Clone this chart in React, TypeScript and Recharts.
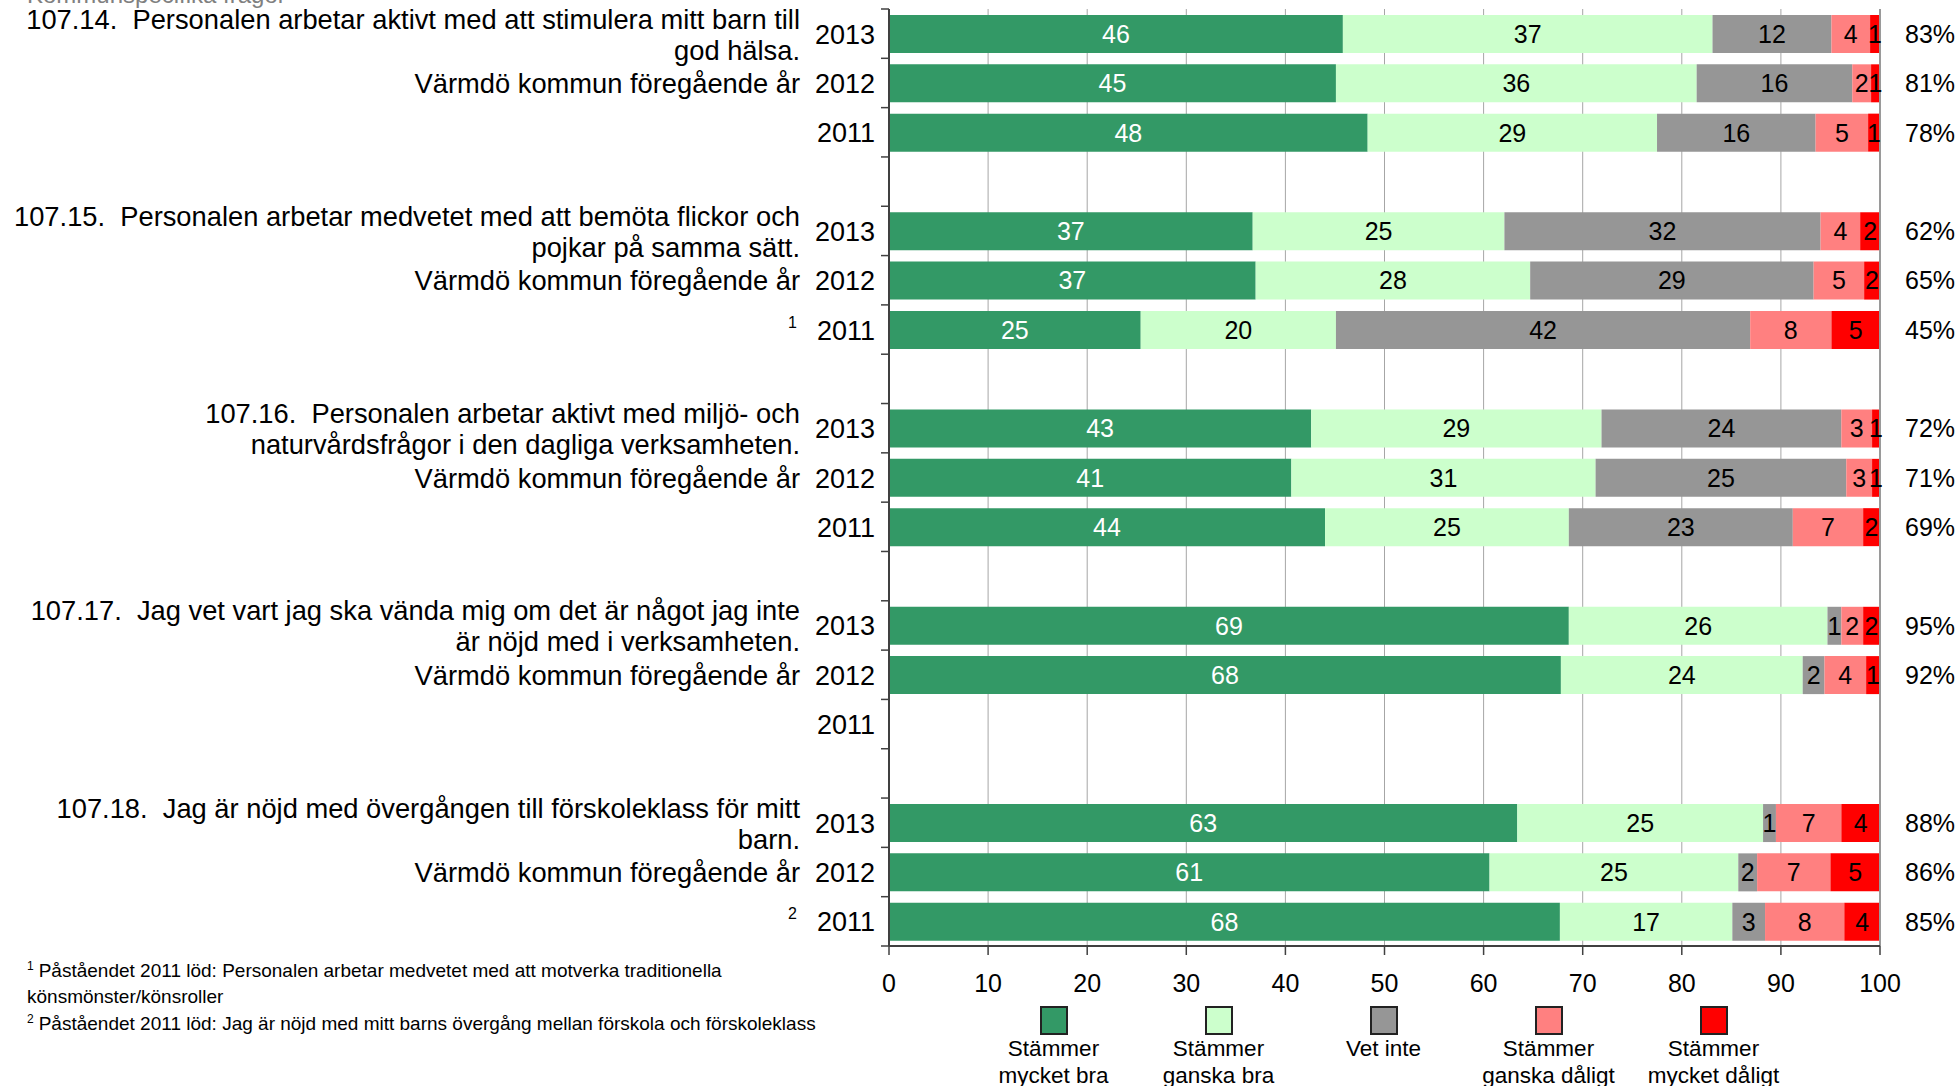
import { BarChart, Bar, XAxis, YAxis, CartesianGrid, LabelList, ReferenceLine } from 'recharts';

// survey questions (two lines each), years and notes
const questions = [
  ['107.14.\u00a0 Personalen arbetar aktivt med att stimulera mitt barn till', 'god hälsa.'],
  ['107.15.\u00a0 Personalen arbetar medvetet med att bemöta flickor och', 'pojkar på samma sätt.'],
  ['107.16.\u00a0 Personalen arbetar aktivt med miljö- och', 'naturvårdsfrågor i den dagliga verksamheten.'],
  ['107.17.\u00a0 Jag vet vart jag ska vända mig om det är något jag inte', 'är nöjd med i verksamheten.'],
  ['107.18.\u00a0 Jag är nöjd med övergången till förskoleklass för mitt', 'barn.'],
];
const years = ['2013', '2012', '2011'];
const compareLabel = 'Värmdö kommun föregående år';
const notes2011 = ['', '1', '', '', '2'];

// shares in %, order: q1 2013, 2012, 2011, q2 2013 ...
const mycketBra = [45.8, 45.1, 48.3, 36.7, 37.0, 25.4, 42.6, 40.6, 44.0, 68.6, 67.8, null, 63.4, 60.6, 67.7];
const ganskaBra = [37.3, 36.4, 29.2, 25.4, 27.7, 19.7, 29.3, 30.7, 24.6, 26.1, 24.4, null, 24.8, 25.1, 17.4];
const vetInte = [12.0, 15.7, 16.0, 31.9, 28.6, 41.8, 24.2, 25.3, 22.6, 1.4, 2.2, null, 1.3, 1.9, 3.3];
const ganskaDaligt = [3.9, 1.9, 5.3, 4.0, 5.1, 8.2, 3.1, 2.6, 7.1, 2.2, 4.2, null, 6.6, 7.4, 8.0];
const mycketDaligt = [1.0, 0.9, 1.2, 2.0, 1.6, 4.9, 0.8, 0.8, 1.7, 1.7, 1.4, null, 3.9, 5.0, 3.6];
const positive = [83, 81, 78, 62, 65, 45, 72, 71, 69, 95, 92, null, 88, 86, 85];

const seriesNames = [
  ['Stämmer', 'mycket bra'],
  ['Stämmer', 'ganska bra'],
  ['Vet inte'],
  ['Stämmer', 'ganska dåligt'],
  ['Stämmer', 'mycket dåligt'],
];
const seriesColors = ['#339966', '#ccffcc', '#969696', '#ff8080', '#ff0000'];
const seriesLabelColors = ['#ffffff', '#000000', '#000000', '#000000', '#000000'];
const seriesValues = [mycketBra, ganskaBra, vetInte, ganskaDaligt, mycketDaligt];

const xTicks = [0, 10, 20, 30, 40, 50, 60, 70, 80, 90, 100];

const sectionTitle = 'Kommunspecifika frågor';
const footnoteLines = [
  { mark: '1', text: 'Påståendet 2011 löd: Personalen arbetar medvetet med att motverka traditionella' },
  { mark: '', text: 'könsmönster/könsroller' },
  { mark: '2', text: 'Påståendet 2011 löd: Jag är nöjd med mitt barns övergång mellan förskola och förskoleklass' },
];

const rows: any[] = [];
questions.forEach((q, gi) => {
  if (gi > 0) rows.push({ key: `sp${gi}` });
  years.forEach((yr, yi) => {
    const i = gi * 3 + yi;
    const row: any = {
      key: `${gi}-${yr}`,
      year: yr,
      question: yi === 0 ? q : null,
      compare: yi === 1,
      note: yi === 2 ? notes2011[gi] : '',
      pct: positive[i],
    };
    seriesValues.forEach((vals, si) => {
      row[`s${si}`] = vals[i];
    });
    rows.push(row);
  });
});

const W = 1959;
const H = 1086;
const PLOT_TOP = 9;
const PLOT_BOTTOM = 946;
const PLOT_LEFT = 889;
const PLOT_RIGHT = 1880;
const SLOT = (PLOT_BOTTOM - PLOT_TOP) / rows.length;
const FONT = "'Liberation Sans', Arial, sans-serif";

const LeftTick = (props: any) => {
  const { y, payload, index } = props;
  const row = rows.find((r) => r.key === payload.value) || {};
  const ax = PLOT_LEFT;
  const half = SLOT / 2;
  return (
    <g fontFamily={FONT} fill="#000">
      <line x1={ax - 8} x2={ax} y1={y - half} y2={y - half} stroke="#404040" strokeWidth={1.5} />
      {index === rows.length - 1 && (
        <line x1={ax - 8} x2={ax} y1={y + half} y2={y + half} stroke="#404040" strokeWidth={1.5} />
      )}
      {row.year && (
        <text x={ax - 14} y={y + 10} textAnchor="end" fontSize={27}>{row.year}</text>
      )}
      {row.question && (
        <>
          <text x={ax - 89} y={y - 5} textAnchor="end" fontSize={27.3}>{row.question[0]}</text>
          <text x={ax - 89} y={y + 26} textAnchor="end" fontSize={27.3}>{row.question[1]}</text>
        </>
      )}
      {row.compare && (
        <text x={ax - 89} y={y + 10} textAnchor="end" fontSize={27.3}>{compareLabel}</text>
      )}
      {row.note && (
        <text x={ax - 92} y={y - 2} textAnchor="end" fontSize={16}>{row.note}</text>
      )}
    </g>
  );
};

const fmtValue = (v: any) => (v == null ? '' : Math.round(Number(v)));
const fmtPct = (v: any) => (v == null ? '' : `${v}%`);

export default function App() {
  return (
    <div style={{ position: 'absolute', left: 0, top: 0, width: W, height: H, background: '#fff', fontFamily: FONT, overflow: 'hidden' }}>
      <div style={{ position: 'absolute', left: 27, top: -17, fontSize: 24, lineHeight: '24px', color: '#808080', whiteSpace: 'nowrap' }}>
        {sectionTitle}
      </div>
      <BarChart
        width={W}
        height={H}
        data={rows}
        layout="vertical"
        barSize={38}
        margin={{ top: PLOT_TOP, right: W - PLOT_RIGHT, bottom: H - PLOT_BOTTOM - 50, left: 0 }}
      >
        <CartesianGrid horizontal={false} stroke="#a6a6a6" />
        <XAxis
          type="number"
          domain={[0, 100]}
          ticks={xTicks}
          height={50}
          tickSize={9}
          tickMargin={19}
          interval={0}
          axisLine={{ stroke: '#404040', strokeWidth: 2 }}
          tickLine={{ stroke: '#404040', strokeWidth: 1.5 }}
          tick={{ fill: '#000', fontSize: 25, fontFamily: FONT }}
        />
        <XAxis
          xAxisId="top"
          orientation="top"
          type="number"
          domain={[0, 100]}
          height={0}
          tick={false}
          tickLine={false}
          axisLine={{ stroke: '#9a9a9a', strokeWidth: 2 }}
        />
        <YAxis
          type="category"
          dataKey="key"
          width={PLOT_LEFT}
          interval={0}
          tickSize={8}
          tickMargin={6}
          tickLine={false}
          axisLine={{ stroke: '#404040', strokeWidth: 2 }}
          tick={<LeftTick />}
        />
        <ReferenceLine x={100} stroke="#9a9a9a" strokeWidth={2} />
        {seriesValues.map((_, si) => (
          <Bar key={si} dataKey={`s${si}`} stackId="a" fill={seriesColors[si]} isAnimationActive={false}>
            <LabelList
              dataKey={`s${si}`}
              position="center"
              formatter={fmtValue}
              fill={seriesLabelColors[si]}
              fontSize={25}
              fontFamily={FONT}
            />
            {si === seriesValues.length - 1 && (
              <LabelList
                dataKey="pct"
                position="right"
                offset={25}
                formatter={fmtPct}
                fill="#000"
                fontSize={25}
                fontFamily={FONT}
              />
            )}
          </Bar>
        ))}
      </BarChart>

      <div style={{ position: 'absolute', left: 971, top: 1006, display: 'flex' }}>
        {seriesNames.map((name, si) => (
          <div key={si} style={{ width: 165, display: 'flex', flexDirection: 'column', alignItems: 'center' }}>
            <div style={{ width: 24, height: 25, background: seriesColors[si], border: '2px solid #222' }} />
            {name.map((line, li) => (
              <div key={li} style={{ fontSize: 22.5, lineHeight: '27px', color: '#000', whiteSpace: 'nowrap' }}>{line}</div>
            ))}
          </div>
        ))}
      </div>

      {footnoteLines.map((fn, fi) => (
        <div
          key={fi}
          style={{ position: 'absolute', left: 27, top: [958, 984, 1011][fi], fontSize: 19, lineHeight: '26px', color: '#000', whiteSpace: 'nowrap' }}
        >
          {fn.mark && (
            <span style={{ fontSize: 12, position: 'relative', top: -7, marginRight: 5 }}>{fn.mark}</span>
          )}
          {fn.text}
        </div>
      ))}
    </div>
  );
}
